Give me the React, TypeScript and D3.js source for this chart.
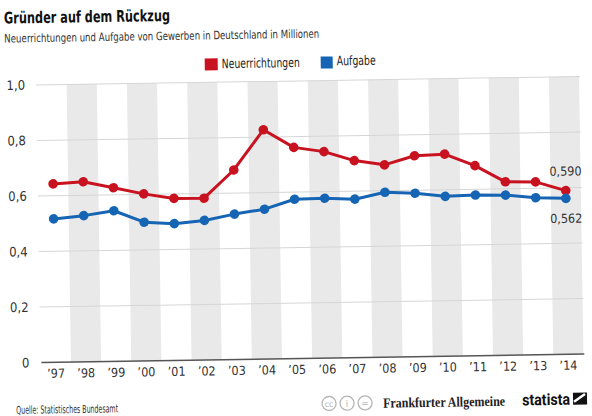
import * as d3 from 'd3';

const years = ['97', '98', '99', '00', '01', '02', '03', '04', '05', '06', '07', '08', '09', '10', '11', '12', '13', '14'];
const neuerrichtungen = [0.643, 0.649, 0.626, 0.602, 0.584, 0.583, 0.683, 0.826, 0.761, 0.744, 0.71, 0.693, 0.724, 0.728, 0.685, 0.625, 0.623, 0.59];
const aufgabe = [0.517, 0.527, 0.543, 0.5, 0.493, 0.503, 0.524, 0.54, 0.574, 0.576, 0.571, 0.594, 0.589, 0.576, 0.579, 0.577, 0.566, 0.562];
const yTicks = [0, 0.2, 0.4, 0.6, 0.8, 1];
const yTickLabels = ['0', '0,2', '0,4', '0,6', '0,8', '1,0'];
const endLabels = ['0,590', '0,562'];

const RED = '#c9121f';
const BLUE = '#1565b4';
const NARROW = "'Liberation Sans Narrow', 'DejaVu Sans Condensed', 'Roboto', sans-serif";

export default function App() {
  const width = 592;
  const height = 416;

  const x = d3.scalePoint<string>().domain(years).range([53.5, 566]);
  const y = d3.scaleLinear().domain([0, 1]).range([358.6, 81]);
  const step = x.step();

  const line = d3.line<number>()
    .x((_, i) => x(years[i]) ?? 0)
    .y(d => y(d));

  const last = years.length - 1;
  const lastX = x(years[last]) ?? 0;

  return (
    <svg width={width} height={height} style={{ position: 'absolute', left: 0, top: 0, background: '#fff' }}>
      <g transform="rotate(-0.9, 296, 208)" fontFamily={NARROW}>
        {/* title */}
        <text x={7} y={19} fontSize={16} fontWeight="bold" fill="#111" textLength={166} lengthAdjust="spacingAndGlyphs">
          Gründer auf dem Rückzug
        </text>
        <text x={7} y={38} fontSize={11.5} fill="#333" textLength={315} lengthAdjust="spacingAndGlyphs">
          Neuerrichtungen und Aufgabe von Gewerben in Deutschland in Millionen
        </text>

        {/* legend */}
        <rect x={207} y={57} width={13} height={12} fill={RED} />
        <text x={224} y={67} fontSize={13} fill="#222" textLength={78} lengthAdjust="spacingAndGlyphs">Neuerrichtungen</text>
        <rect x={323} y={57} width={12} height={12} fill={BLUE} />
        <text x={339} y={66} fontSize={13} fill="#222" textLength={39} lengthAdjust="spacingAndGlyphs">Aufgabe</text>

        {/* alternating bands */}
        {years.map((yr, i) => i % 2 === 1 ? (
          <rect key={yr} x={(x(yr) ?? 0) - step / 2} y={y(1)} width={step} height={y(0) - y(1)} fill="#e9e9e9" />
        ) : null)}

        {/* gridlines */}
        {yTicks.slice(1).map(t => (
          <line key={t} x1={38} x2={582} y1={y(t)} y2={y(t)} stroke="#d6d6d6" strokeWidth={1} />
        ))}
        <line x1={39} x2={582} y1={y(0)} y2={y(0)} stroke="#555" strokeWidth={1.5} />

        {/* y labels */}
        {yTicks.map((t, i) => (
          <text key={t} x={27} y={y(t) + 4.5} textAnchor="end" fontSize={13} fill="#333">{yTickLabels[i]}</text>
        ))}

        {/* x labels */}
        {years.map(yr => (
          <text key={yr} x={x(yr)} y={374} textAnchor="middle" fontSize={12.5} fill="#333">{'\u2019' + yr}</text>
        ))}

        {/* lines */}
        <path d={line(neuerrichtungen) ?? ''} fill="none" stroke={RED} strokeWidth={3} strokeLinejoin="round" />
        <path d={line(aufgabe) ?? ''} fill="none" stroke={BLUE} strokeWidth={3} strokeLinejoin="round" />
        {neuerrichtungen.map((v, i) => (
          <circle key={'n' + i} cx={x(years[i])} cy={y(v)} r={4.8} fill={RED} />
        ))}
        {aufgabe.map((v, i) => (
          <circle key={'a' + i} cx={x(years[i])} cy={y(v)} r={4.8} fill={BLUE} />
        ))}

        {/* end value labels */}
        <text x={lastX} y={y(neuerrichtungen[last]) - 15} textAnchor="middle" fontSize={12.5} fill="#333">{endLabels[0]}</text>
        <text x={lastX} y={y(aufgabe[last]) + 24.5} textAnchor="middle" fontSize={12.5} fill="#333">{endLabels[1]}</text>

        {/* footer */}
        <text x={13} y={409.5} fontSize={11} fill="#333" textLength={102} lengthAdjust="spacingAndGlyphs">Quelle: Statistisches Bundesamt</text>
        {[326, 344, 362].map((cx, i) => (
          <g key={cx}>
            <circle cx={cx} cy={404} r={7} fill="none" stroke="#b5b5b5" strokeWidth={1.3} />
            <text x={cx} y={407.5} textAnchor="middle" fontSize={i === 0 ? 8 : 9} fill="#b5b5b5" fontFamily="DejaVu Sans">
              {i === 0 ? 'cc' : i === 1 ? 'i' : '='}
            </text>
          </g>
        ))}
        <text x={380} y={409} fontSize={14} fontWeight="bold" fill="#222" fontFamily="'Liberation Serif', serif" textLength={122} lengthAdjust="spacingAndGlyphs">
          Frankfurter Allgemeine
        </text>
        <text x={519} y={409} fontSize={16} fontWeight="bold" fill="#111" fontFamily="'Roboto', 'DejaVu Sans', sans-serif" textLength={48} lengthAdjust="spacingAndGlyphs">
          statista
        </text>
        <rect x={570} y={397} width={14} height={12} fill="#111" />
        <path d="M571,406 L582,398.5" stroke="#fff" strokeWidth={2.5} />
      </g>
    </svg>
  );
}
